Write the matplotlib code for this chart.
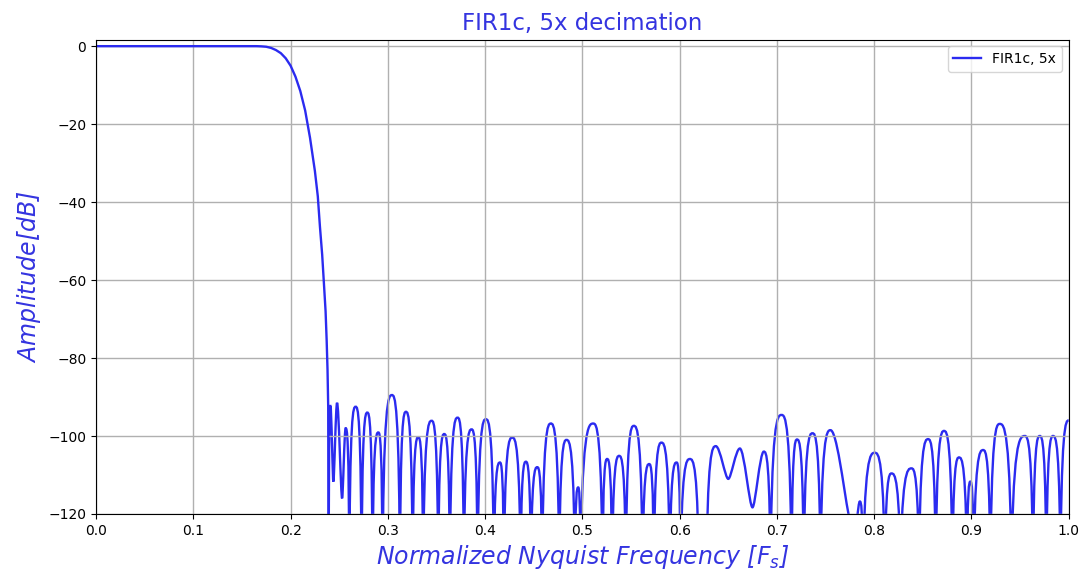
import matplotlib
matplotlib.use("Agg")
import matplotlib.pyplot as plt
from matplotlib.path import Path
from matplotlib.patches import PathPatch

# passband + transition band
trans_f = [0.0, 0.165, 0.170, 0.175, 0.180, 0.185, 0.190, 0.195, 0.200,
           0.205, 0.210, 0.215, 0.220, 0.225, 0.228, 0.2302, 0.2325,
           0.2343, 0.2360, 0.2371, 0.2380, 0.2387, 0.2391]
trans_db = [0.0, 0.0, -0.05, -0.15, -0.45, -1.0, -1.8, -3.1, -5.0,
            -7.8, -11.5, -16.5, -23.5, -32.0, -38.5, -46.3, -53.5,
            -60.9, -68.0, -75.4, -83.0, -92.5, -140]

# stopband: valleys (nulls / dips) and the lobe peaks between them
valley_f = [0.2392, 0.2440, 0.2530, 0.2604, 0.2730, 0.2843, 0.2946, 0.3124,
            0.3255, 0.3364, 0.3518, 0.3638, 0.3782, 0.3923, 0.4090, 0.4193,
            0.4365, 0.4471, 0.4587, 0.4762, 0.4923, 0.4981, 0.5207, 0.5306,
            0.5447, 0.5619, 0.5735, 0.5899, 0.6009, 0.6197, 0.6276, 0.6500,
            0.6749, 0.6934, 0.7150, 0.7276, 0.7448, 0.7800, 0.7886, 0.8110,
            0.8270, 0.8461, 0.8633, 0.8804, 0.8954, 0.9023, 0.9195, 0.9411,
            0.9633, 0.9770, 0.9915]
valley_db = [-140, -111.7, -116, -140, -140, -140, -140, -140,
             -140, -140, -140, -140, -140, -140, -140, -140,
             -140, -140, -140, -140, -140, -140, -140, -140,
             -140, -140, -140, -140, -140, -140, -140, -111,
             -118.3, -140, -140, -140, -140, -126, -140, -140,
             -140, -140, -140, -140, -140, -140, -140, -140,
             -140, -140, -140]
peak_f = [0.2410, 0.2478, 0.2566, 0.2669, 0.2789, 0.2902, 0.3042, 0.3186,
          0.3313, 0.3450, 0.3580, 0.3717, 0.3861, 0.4008, 0.4152, 0.4279,
          0.4419, 0.4536, 0.4676, 0.4837, 0.4957, 0.5111, 0.5255, 0.5378,
          0.5529, 0.5687, 0.5813, 0.5968, 0.6105, 0.6236, 0.6372, 0.6619,
          0.6865, 0.7047, 0.7207, 0.7366, 0.7551, 0.7852, 0.8006, 0.8178,
          0.8383, 0.8554, 0.8718, 0.8872, 0.8989, 0.9120, 0.9291, 0.9548,
          0.9702, 0.9839, 1.0]
peak_db = [-92.3, -91.5, -98, -92.5, -94, -99.1, -89.5, -93.8,
           -100.3, -96.1, -99.5, -95.3, -98.3, -95.7, -106.8, -100.4,
           -106.6, -108, -96.8, -101, -113.2, -96.8, -105.9, -105.1,
           -97.4, -107.2, -101.7, -106.8, -105.9, -140, -102.6, -103.2,
           -104, -94.6, -100.9, -99.3, -98.5, -116.8, -104.3, -109.6,
           -108.3, -100.8, -98.7, -105.5, -111.7, -103.6, -96.9, -100,
           -100, -100, -96]

x_ticks = [0.0, 0.1, 0.2, 0.3, 0.4, 0.5, 0.6, 0.7, 0.8, 0.9, 1.0]
y_ticks = [0, -20, -40, -60, -80, -100, -120]

line_col = "#2b2bf0"
text_col = "#3434e0"

fig = plt.figure(figsize=(10.85, 5.73), dpi=100)
ax = fig.add_axes([0.0885, 0.103, 0.8965, 0.828])

ax.plot(trans_f, trans_db, color=line_col, lw=1.7, label="FIR1c, 5x")

# lobes drawn as rounded arches between valley and peak points
pts = []
for i in range(len(peak_f)):
    pts.append((valley_f[i], valley_db[i], "v"))
    pts.append((peak_f[i], peak_db[i], "p"))

verts = [(pts[0][0], pts[0][1])]
codes = [Path.MOVETO]
for (xa, ya, ka), (xb, yb, kb) in zip(pts[:-1], pts[1:]):
    dx = xb - xa
    if kb == "p":
        if ka == "v" and ya > -130:
            # shallow dip -> rounded bottom
            c1 = (xa + 0.25 * dx, ya)
        else:
            c1 = (xa + 0.05 * dx, yb)
        c2 = (xa + 0.65 * dx, yb)
    else:
        c1 = (xa + 0.35 * dx, ya)
        if yb > -130:
            c2 = (xa + 0.75 * dx, yb)
        else:
            c2 = (xa + 0.95 * dx, ya)
    verts += [c1, c2, (xb, yb)]
    codes += [Path.CURVE4] * 3
ax.add_patch(PathPatch(Path(verts, codes), fill=False, edgecolor=line_col, lw=1.7))

ax.set_xlim(0, 1.0)
ax.set_ylim(-120, 1.7)
ax.set_xticks(x_ticks)
ax.set_yticks(y_ticks)
ax.tick_params(labelsize=10)
ax.grid(True, color="#b0b0b0", lw=1)

ax.set_title("FIR1c, 5x decimation", color=text_col, fontsize=16.5, pad=7)
ax.set_xlabel("Normalized Nyquist Frequency [$F_s$]", color=text_col,
              fontsize=17, style="italic")
ax.set_ylabel("Amplitude[$dB$]", color=text_col, fontsize=17, style="italic")
ax.legend(loc="upper right", fontsize=10)

fig.savefig("out.png", dpi=100)
